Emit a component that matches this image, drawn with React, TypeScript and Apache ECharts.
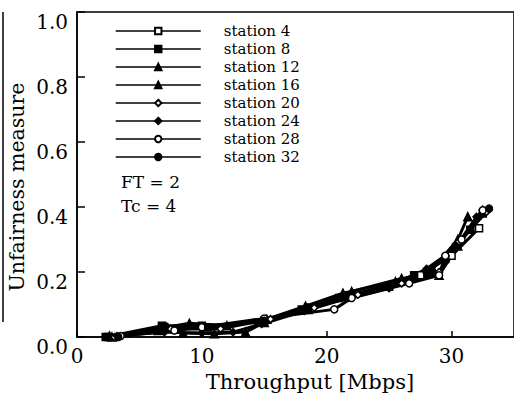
import React, { useEffect, useRef } from "react";
import * as echarts from "echarts";

const FONT = "DejaVu Serif";

const stationNames = [
  "station 4",
  "station 8",
  "station 12",
  "station 16",
  "station 20",
  "station 24",
  "station 28",
  "station 32",
];

const station4 = [[2.5, 0], [7, 0.03], [10.5, 0.03], [15, 0.05], [18.5, 0.09], [21.5, 0.125], [25, 0.155], [27.5, 0.19], [30, 0.25], [32.2, 0.335]];
const station8 = [[2.3, 0], [6.8, 0.035], [10, 0.035], [14.5, 0.045], [18, 0.085], [21, 0.12], [24.8, 0.155], [27, 0.19], [29.5, 0.24], [31.5, 0.33], [32.5, 0.38]];
const station12 = [[2.6, 0.003], [7.2, 0.03], [9, 0.042], [12, 0.035], [15.2, 0.055], [18.3, 0.095], [21.3, 0.135], [25.5, 0.17], [28.5, 0.21], [30.5, 0.3], [31.3, 0.37]];
const station16 = [[2.8, 0], [6.5, 0.02], [8.5, 0.012], [11, 0.01], [13.5, 0.015], [15, 0.045], [18.5, 0.085], [22, 0.14], [26, 0.18], [29, 0.19], [30.5, 0.28], [32.5, 0.39]];
const station20 = [[3, 0], [7.5, 0.025], [11.5, 0.025], [15.5, 0.055], [19, 0.09], [22.5, 0.13], [26, 0.165], [29, 0.2], [30.5, 0.29], [32.8, 0.385]];
const station24 = [[3.2, 0.003], [7, 0.015], [10, 0.012], [12.5, 0.015], [14.8, 0.04], [18.2, 0.08], [21.7, 0.12], [25, 0.15], [28, 0.21], [30.2, 0.27], [32, 0.37]];
const station28 = [[3.5, 0.003], [7.8, 0.02], [10, 0.03], [15, 0.057], [20.6, 0.085], [22, 0.12], [26.6, 0.165], [29, 0.19], [29.5, 0.25], [30.8, 0.3], [32.5, 0.39]];
const station32 = [[3.3, 0], [7, 0.03], [10.5, 0.03], [15, 0.05], [18.5, 0.09], [21.5, 0.125], [25, 0.16], [28, 0.2], [30.3, 0.28], [33, 0.395]];

const stationData = [station4, station8, station12, station16, station20, station24, station28, station32];
const markerShapes = ["rect", "rect", "triangle", "triangle", "diamond", "diamond", "circle", "circle"];
const markerFilled = [false, true, true, true, false, true, false, true];

const xLabel = "Throughput [Mbps]";
const yLabel = "Unfairness measure";
const noteLines = ["FT = 2", "Tc = 4"];

export default function App() {
  const ref = useRef<HTMLDivElement>(null);

  useEffect(() => {
    if (!ref.current) return;
    const chart = echarts.init(ref.current, null, { renderer: "svg" });

    const series = stationNames.map((name, i) => ({
      name,
      type: "line",
      data: stationData[i],
      symbol: markerShapes[i],
      symbolSize: markerShapes[i] === "triangle" ? 8 : 7,
      showSymbol: true,
      lineStyle: { color: "#000", width: 3 },
      itemStyle: {
        color: markerFilled[i] ? "#000" : "#fff",
        borderColor: "#000",
        borderWidth: 1.5,
      },
      emphasis: { disabled: true },
    }));

    chart.setOption({
      animation: false,
      backgroundColor: "#fff",
      textStyle: { fontFamily: FONT, color: "#000" },
      grid: {
        left: 77,
        top: 12,
        right: -4,
        bottom: 58,
        show: true,
        borderColor: "#000",
        borderWidth: 1.5,
        backgroundColor: "transparent",
      },
      legend: {
        orient: "vertical",
        left: 115,
        top: 22,
        padding: 0,
        itemGap: 0,
        itemWidth: 85,
        itemHeight: 8,
        data: stationNames,
        lineStyle: { width: 1.5, color: "#000" },
        textStyle: {
          fontFamily: FONT,
          fontSize: 15,
          lineHeight: 18,
          color: "#000",
          padding: [0, 0, 0, 18],
        },
      },
      xAxis: {
        type: "value",
        min: 0,
        max: 35,
        interval: 10,
        axisLine: { show: true, lineStyle: { color: "#000", width: 1.5 } },
        axisTick: { show: true, inside: true, length: 6, lineStyle: { color: "#000", width: 1.5 } },
        splitLine: { show: false },
        axisLabel: {
          fontFamily: FONT,
          fontSize: 20,
          color: "#000",
          margin: 9,
          showMaxLabel: false,
        },
      },
      yAxis: {
        type: "value",
        min: 0,
        max: 1,
        interval: 0.2,
        axisLine: { show: true, lineStyle: { color: "#000", width: 1.5 } },
        axisTick: { show: true, inside: true, length: 8, lineStyle: { color: "#000", width: 1.5 } },
        splitLine: { show: false },
        axisLabel: {
          fontFamily: FONT,
          fontSize: 20,
          color: "#000",
          margin: 9,
          verticalAlign: "top",
          formatter: (v: number) => v.toFixed(1),
        },
      },
      graphic: [
        {
          type: "line",
          shape: { x1: 3, y1: 12, x2: 3, y2: 322 },
          style: { stroke: "#000", lineWidth: 1.5 },
        },
        {
          type: "text",
          x: 310,
          y: 382,
          style: {
            text: xLabel,
            fontFamily: FONT,
            fontSize: 21,
            fill: "#000",
            align: "center",
            verticalAlign: "middle",
          },
        },
        {
          type: "text",
          x: 17,
          y: 187,
          rotation: Math.PI / 2,
          style: {
            text: yLabel,
            fontFamily: FONT,
            fontSize: 20.5,
            fill: "#000",
            align: "center",
            verticalAlign: "middle",
          },
        },
        ...noteLines.map((t, i) => ({
          type: "text",
          x: 121,
          y: 182 + i * 24,
          style: {
            text: t,
            fontFamily: FONT,
            fontSize: 17,
            fill: "#000",
            align: "left",
            verticalAlign: "middle",
          },
        })),
      ],
      series,
    });

    return () => chart.dispose();
  }, []);

  return (
    <div
      ref={ref}
      style={{ position: "fixed", left: 0, top: 0, width: 514, height: 395, background: "#fff" }}
    />
  );
}
